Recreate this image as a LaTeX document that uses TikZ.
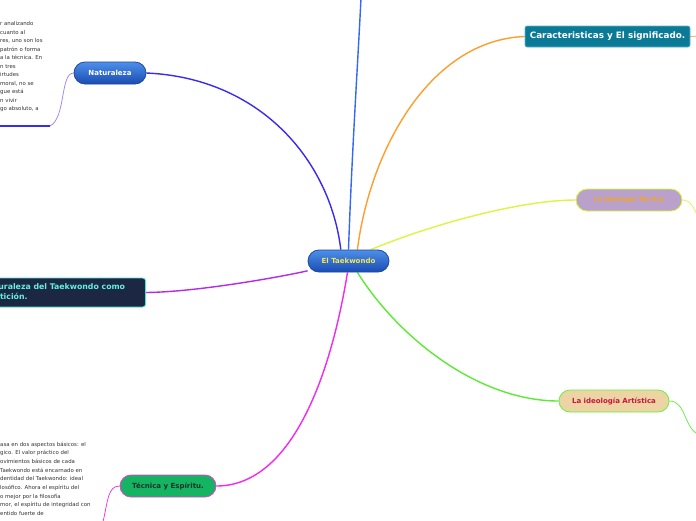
\documentclass[tikz,border=0pt]{standalone}
\usepackage{fontspec}
\setmainfont{DejaVu Sans}
\usetikzlibrary{backgrounds}
\definecolor{blueTop}{HTML}{4D8FEA}
\definecolor{blueBot}{HTML}{1A4CB2}
\definecolor{blueEdge}{HTML}{1C4A9C}
\definecolor{centerYellow}{HTML}{F6E84A}
\definecolor{caraFill}{HTML}{0B7A96}
\definecolor{caraEdge}{HTML}{5BB6C8}
\definecolor{ideoFill}{HTML}{B9A1CB}
\definecolor{ideoEdge}{HTML}{D4FF2E}
\definecolor{ideoText}{HTML}{F4A61C}
\definecolor{navyFill}{HTML}{1C2744}
\definecolor{navyEdge}{HTML}{4AE3D6}
\definecolor{navyText}{HTML}{62F0E2}
\definecolor{artFill}{HTML}{ECD4A4}
\definecolor{artEdge}{HTML}{66F23A}
\definecolor{artText}{HTML}{C8163C}
\definecolor{tecFill}{HTML}{14B462}
\definecolor{tecEdge}{HTML}{F03CD8}
\definecolor{tecText}{HTML}{1A3328}
\definecolor{cTop}{HTML}{3468F4}
\definecolor{cNat}{HTML}{3A2CEE}
\definecolor{cNatTwig}{HTML}{9C7CF4}
\definecolor{cOrange}{HTML}{FF9E2C}
\definecolor{cLime}{HTML}{DDF542}
\definecolor{cPurple}{HTML}{B02BEB}
\definecolor{cGreen}{HTML}{5EEA34}
\definecolor{cMagenta}{HTML}{F02AEE}
\definecolor{bodyGray}{HTML}{333333}
\tikzset{
  pill/.style={rounded corners=11pt, minimum height=22pt, inner xsep=0pt, inner ysep=0pt,
    line width=0.8pt, font=\fontsize{7}{8}\selectfont\bfseries},
  bluepill/.style={pill, top color=blueTop, bottom color=blueBot, draw=blueEdge},
  branch/.style={line width=1.4pt},
  twig/.style={line width=0.7pt},
  bodytext/.style={font=\fontsize{5.4}{8.7}\selectfont, align=left, inner sep=0pt,
    anchor=north west, text=bodyGray}
}
\begin{document}
\begin{tikzpicture}[x=1pt,y=-1pt]
\useasboundingbox (0,0) rectangle (696,520);
\clip (0,0) rectangle (696,520);

% nodes
\node[bluepill, minimum width=81pt, text=centerYellow] (center) at (348.5,261) {El Taekwondo};
\node[bluepill, minimum width=72pt, text=white] (nat) at (110,73) {Naturaleza};
\node[draw=caraEdge, fill=caraFill, rounded corners=2pt, line width=0.6pt, minimum width=165pt,
  minimum height=21pt, inner sep=0pt, text=white, font=\fontsize{8.8}{10}\selectfont\bfseries]
  (cara) at (607.5,36.5) {Caracteristicas y El significado.};
\node[pill, fill=ideoFill, draw=ideoEdge, minimum width=106pt, text=ideoText,
  font=\fontsize{6.2}{7}\selectfont\bfseries] (ideo) at (629,200) {La ideología Técnica};
\node[pill, fill=artFill, draw=artEdge, minimum width=110pt, text=artText] (art) at (614,401) {La ideología Artística};
\node[pill, fill=tecFill, draw=tecEdge, minimum width=96pt, text=tecText] (tec) at (168,486) {Técnica y Espíritu.};
\node[draw=navyEdge, fill=navyFill, rounded corners=3pt, line width=0.8pt, minimum height=29pt,
  inner xsep=20.5pt, inner ysep=0pt, text=navyText, align=left, anchor=east,
  font=\fontsize{7.8}{9.4}\selectfont\bfseries] (comp) at (146,292.5)
  {La Naturaleza del Taekwondo como\\Competición.};

% text notes
\node[bodytext, font=\fontsize{5.4}{8.5}\selectfont] (natnote) at (0,21.5) {r analizando\\cuanto al\\res, uno son los\\patrón o forma\\a la técnica. En\\n tres\\irtudes\\moral, no se\\gue está\\n vivir\\go absoluto, a};
\node[bodytext] (tecnote) at (0,441.5) {asa en dos aspectos básicos: el\\gico. El valor práctico del\\ovimientos básicos de cada\\Taekwondo está encarnado en\\dentidad del Taekwondo: ideal\\losófico. Ahora el espíritu del\\o mejor por la filosofía\\mor, el espíritu de integridad con\\entido fuerte de};

% free ends
\coordinate (topEnd) at (361,-2);
\coordinate (natA) at (50,126);
\coordinate (natB) at (0,126);
\coordinate (caraEnd) at (698,36);
\coordinate (ideoEnd) at (698,217);
\coordinate (artEnd) at (698,434);
\coordinate (tecEnd) at (103,522);

\begin{scope}[on background layer]
\fill[white] (0,0) rectangle (696,520);
\draw[branch, cTop] (center.north) .. controls (352,150) and (358,60) .. (topEnd);
\draw[branch, cNat] (center.124) .. controls (330,160) and (260,78) .. (nat.east);
\draw[branch, cOrange] (center.52) .. controls (370,150) and (430,40) .. (cara.west);
\draw[branch, cLime] (center.27) .. controls (430,225) and (520,200) .. (ideo.west);
\draw[branch, cPurple] (center) .. controls (290,275) and (200,292) .. (comp.east);
\draw[branch, cGreen] (center.308) .. controls (400,340) and (480,401) .. (art.west);
\draw[branch, cMagenta] (center.265) .. controls (330,380) and (290,486) .. (tec.east);
% twigs
\draw[twig, cNatTwig] (nat.west) .. controls (60,73) and (66,118) .. (natA);
\draw[line width=1.5pt, cNat] (natA) -- (natB);
\draw[twig, cOrange] (cara.east) -- (caraEnd);
\draw[twig, cLime] (ideo.east) .. controls (690,200) and (693,206) .. (ideoEnd);
\draw[twig, cGreen] (art.east) .. controls (686,401) and (684,428) .. (artEnd);
\draw[twig, cMagenta] (tec.west) .. controls (108,486) and (108,500) .. (tecEnd);
\end{scope}
\end{tikzpicture}
\end{document}
